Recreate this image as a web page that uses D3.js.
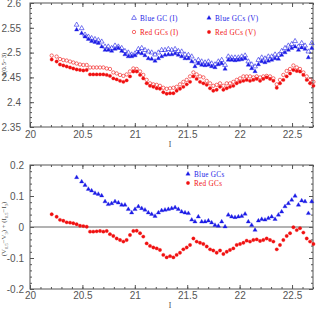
<!DOCTYPE html>
<html>
<head>
<meta charset="utf-8">
<script src="https://cdn.jsdelivr.net/npm/d3@7"></script>
<style>
body { margin: 0; background: #fff; }
</style>
</head>
<body>
<div id="chart"></div>
<script>
// I magnitude bins, blue and red samples
var blueX = [20.445, 20.493, 20.525, 20.557, 20.588, 20.620, 20.652, 20.684, 20.716, 20.747,
  20.779, 20.811, 20.843, 20.875, 20.906, 20.938, 20.970, 21.002, 21.034, 21.066,
  21.097, 21.129, 21.161, 21.193, 21.225, 21.256, 21.288, 21.320, 21.352, 21.384,
  21.415, 21.447, 21.479, 21.511, 21.543, 21.574, 21.606, 21.638, 21.670, 21.702,
  21.733, 21.765, 21.797, 21.829, 21.861, 21.892, 21.924, 21.956, 21.988, 22.020,
  22.052, 22.083, 22.115, 22.147, 22.179, 22.211, 22.242, 22.274, 22.306, 22.338,
  22.370, 22.401, 22.433, 22.465, 22.497, 22.529, 22.561, 22.592, 22.624, 22.656, 22.688];

var blueI = [2.556, 2.549, 2.536, 2.532, 2.529, 2.527, 2.525, 2.522, 2.512, 2.512,
  2.509, 2.514, 2.512, 2.509, 2.503, 2.500, 2.496, 2.498, 2.507, 2.509,
  2.505, 2.502, 2.500, 2.496, 2.500, 2.505, 2.505, 2.507, 2.505, 2.507,
  2.503, 2.502, 2.496, 2.495, 2.492, 2.482, 2.485, 2.482, 2.480, 2.482,
  2.478, 2.476, 2.482, 2.485, 2.475, 2.492, 2.490, 2.490, 2.490, 2.492,
  2.494, 2.482, 2.476, 2.472, 2.485, 2.490, 2.488, 2.492, 2.492, 2.496,
  2.495, 2.503, 2.509, 2.514, 2.517, 2.523, 2.512, 2.519, 2.514, 2.502, 2.519];

var blueV = [2.546, 2.539, 2.532, 2.527, 2.523, 2.521, 2.519, 2.512, 2.505, 2.505,
  2.503, 2.507, 2.509, 2.503, 2.496, 2.492, 2.492, 2.494, 2.500, 2.498,
  2.494, 2.488, 2.487, 2.483, 2.488, 2.492, 2.495, 2.496, 2.496, 2.498,
  2.495, 2.492, 2.488, 2.488, 2.482, 2.472, 2.478, 2.475, 2.474, 2.475,
  2.472, 2.470, 2.476, 2.478, 2.467, 2.485, 2.485, 2.484, 2.485, 2.486,
  2.488, 2.475, 2.468, 2.462, 2.476, 2.482, 2.480, 2.483, 2.485, 2.488,
  2.487, 2.495, 2.500, 2.505, 2.509, 2.512, 2.505, 2.510, 2.507, 2.490, 2.509];

var blueDiff = [0.160, 0.146, 0.135, 0.122, 0.117, 0.109, 0.106, 0.101, 0.082, 0.073,
  0.076, 0.082, 0.078, 0.071, 0.071, 0.057, 0.046, 0.057, 0.066, 0.060,
  0.055, 0.046, 0.041, 0.035, 0.046, 0.053, 0.055, 0.057, 0.060, 0.063,
  0.057, 0.049, 0.046, 0.044, 0.023, 0.017, 0.033, 0.017, 0.017, 0.020,
  0.014, 0.006, 0.003, 0.017, 0.001, 0.039, 0.033, 0.031, 0.033, 0.035,
  0.042, 0.017, 0.006, -0.010, 0.020, 0.025, 0.023, 0.028, 0.033, 0.025,
  0.039, 0.049, 0.066, 0.076, 0.087, 0.100, 0.071, 0.085, 0.082, 0.044, 0.082];

var redX = [20.207, 20.254, 20.286, 20.318, 20.350, 20.382, 20.413, 20.445, 20.477, 20.509,
  20.541, 20.573, 20.604, 20.636, 20.668, 20.700, 20.732, 20.763, 20.795, 20.827,
  20.859, 20.891, 20.922, 20.954, 20.986, 21.018, 21.050, 21.081, 21.113, 21.145,
  21.177, 21.209, 21.240, 21.272, 21.304, 21.336, 21.368, 21.399, 21.431, 21.463,
  21.495, 21.527, 21.559, 21.590, 21.622, 21.654, 21.686, 21.718, 21.749, 21.781,
  21.813, 21.845, 21.877, 21.908, 21.940, 21.972, 22.004, 22.036, 22.067, 22.099,
  22.131, 22.163, 22.195, 22.226, 22.258, 22.290, 22.322, 22.354, 22.385, 22.417,
  22.449, 22.481, 22.513, 22.545, 22.576, 22.608, 22.640, 22.672, 22.704];

var redI = [2.494, 2.492, 2.487, 2.485, 2.484, 2.482, 2.480, 2.478, 2.476, 2.475,
  2.475, 2.470, 2.470, 2.470, 2.470, 2.470, 2.468, 2.467, 2.460, 2.458,
  2.455, 2.453, 2.456, 2.462, 2.468, 2.467, 2.462, 2.455, 2.445, 2.438,
  2.436, 2.435, 2.433, 2.429, 2.427, 2.428, 2.429, 2.431, 2.436, 2.441,
  2.445, 2.452, 2.460, 2.456, 2.452, 2.450, 2.443, 2.438, 2.433, 2.435,
  2.438, 2.433, 2.438, 2.438, 2.441, 2.445, 2.448, 2.452, 2.452, 2.452,
  2.450, 2.452, 2.450, 2.452, 2.453, 2.452, 2.448, 2.436, 2.445, 2.455,
  2.463, 2.467, 2.474, 2.470, 2.467, 2.460, 2.452, 2.445, 2.441];

var redV = [2.486, 2.482, 2.476, 2.474, 2.472, 2.470, 2.468, 2.466, 2.465, 2.464,
  2.465, 2.456, 2.456, 2.456, 2.456, 2.456, 2.455, 2.453, 2.448, 2.446,
  2.443, 2.441, 2.444, 2.452, 2.462, 2.462, 2.455, 2.448, 2.438, 2.433,
  2.431, 2.428, 2.427, 2.420, 2.417, 2.418, 2.418, 2.423, 2.427, 2.431,
  2.436, 2.441, 2.452, 2.447, 2.441, 2.438, 2.435, 2.428, 2.423, 2.425,
  2.431, 2.425, 2.428, 2.431, 2.433, 2.438, 2.441, 2.443, 2.445, 2.443,
  2.445, 2.447, 2.443, 2.447, 2.450, 2.447, 2.443, 2.429, 2.438, 2.445,
  2.452, 2.458, 2.465, 2.463, 2.462, 2.455, 2.445, 2.438, 2.433];

var redDiff = [0.041, 0.033, 0.023, 0.020, 0.015, 0.014, 0.012, 0.009, 0.004, 0.003,
  0.001, -0.015, -0.015, -0.014, -0.013, -0.015, -0.013, -0.023, -0.029, -0.037,
  -0.042, -0.047, -0.042, -0.026, -0.013, -0.012, -0.020, -0.031, -0.053, -0.061,
  -0.066, -0.069, -0.074, -0.090, -0.098, -0.094, -0.098, -0.090, -0.083, -0.072,
  -0.066, -0.058, -0.037, -0.047, -0.051, -0.055, -0.063, -0.072, -0.076, -0.083,
  -0.076, -0.087, -0.080, -0.074, -0.069, -0.058, -0.055, -0.051, -0.044, -0.047,
  -0.042, -0.040, -0.045, -0.042, -0.037, -0.042, -0.047, -0.072, -0.058, -0.042,
  -0.029, -0.020, -0.001, -0.010, -0.004, -0.018, -0.037, -0.047, -0.055];

var xTicks = [20, 20.5, 21, 21.5, 22, 22.5];
var topTicks = [2.35, 2.4, 2.45, 2.5, 2.55, 2.6];
var botTicks = [-0.2, -0.1, 0, 0.1, 0.2];

var blue = "#1c1ce6", red = "#f01010";
var font = "'Liberation Serif', serif";
var plain = function(d) { return String(d); };

var svg = d3.select("#chart").append("svg")
  .attr("width", 316)
  .attr("height", 309);

var x = d3.scaleLinear().domain([20, 22.7]).range([30, 313]);
var yTop = d3.scaleLinear().domain([2.35, 2.6]).range([127, 3]);
var yBot = d3.scaleLinear().domain([-0.2, 0.2]).range([289, 165]);

var xMinor = d3.range(200, 228).map(function(v) { return v / 10; });

function frame(y, yMajor, yMinor, yPad, xPad) {
  var top = y.range()[1], bottom = y.range()[0];
  var g = svg.append("g").attr("color", "#555")
    .attr("font-family", font).attr("font-size", 6.5);

  g.append("g").attr("transform", "translate(0," + bottom + ")")
    .call(d3.axisBottom(x).tickValues(xTicks).tickFormat(plain).tickSizeInner(-4).tickSizeOuter(0).tickPadding(xPad));
  g.append("g").attr("transform", "translate(0," + bottom + ")")
    .call(d3.axisBottom(x).tickValues(xMinor).tickSizeInner(-2).tickSizeOuter(0).tickFormat(""));
  g.append("g").attr("transform", "translate(0," + top + ")")
    .call(d3.axisTop(x).tickValues(xTicks).tickSizeInner(-4).tickSizeOuter(0).tickFormat(""));
  g.append("g").attr("transform", "translate(0," + top + ")")
    .call(d3.axisTop(x).tickValues(xMinor).tickSizeInner(-2).tickSizeOuter(0).tickFormat(""));

  g.append("g").attr("transform", "translate(30,0)")
    .call(d3.axisLeft(y).tickValues(yMajor).tickFormat(plain).tickSizeInner(-4).tickSizeOuter(0).tickPadding(yPad));
  g.append("g").attr("transform", "translate(30,0)")
    .call(d3.axisLeft(y).tickValues(yMinor).tickSizeInner(-2).tickSizeOuter(0).tickFormat(""));
  g.append("g").attr("transform", "translate(313,0)")
    .call(d3.axisRight(y).tickValues(yMajor).tickSizeInner(-4).tickSizeOuter(0).tickFormat(""));
  g.append("g").attr("transform", "translate(313,0)")
    .call(d3.axisRight(y).tickValues(yMinor).tickSizeInner(-2).tickSizeOuter(0).tickFormat(""));

  g.selectAll(".domain").remove();
  g.selectAll("text").attr("fill", "#555");

  g.append("rect")
    .attr("x", 30).attr("y", top)
    .attr("width", 283).attr("height", bottom - top)
    .attr("fill", "none").attr("stroke", "#555").attr("stroke-width", 1);
}

frame(yTop, topTicks, d3.range(235, 261).map(function(v) { return v / 100; }), 9, 4);
frame(yBot, botTicks, d3.range(-10, 11).map(function(v) { return v / 50; }), 6, 3);

// zero line
svg.append("line")
  .attr("x1", x(20)).attr("x2", x(22.7))
  .attr("y1", yBot(0)).attr("y2", yBot(0))
  .attr("stroke", "#666").attr("stroke-width", 1);

var triOpen = d3.symbol().type(d3.symbolTriangle).size(10);
var triFill = d3.symbol().type(d3.symbolTriangle).size(8);
var circ = d3.symbol().type(d3.symbolCircle).size(9);

function points(xs, ys, y, sym, color, open) {
  svg.append("g").selectAll("path")
    .data(xs.map(function(d, i) { return [d, ys[i]]; }))
    .enter().append("path")
      .attr("transform", function(d) { return "translate(" + x(d[0]) + "," + y(d[1]) + ")"; })
      .attr("d", sym)
      .attr("fill", open ? "none" : color)
      .attr("stroke", color)
      .attr("stroke-width", open ? 0.6 : 0.3);
}

points(redX, redI, yTop, circ, red, true);
points(redX, redV, yTop, circ, red, false);
points(blueX, blueI, yTop, triOpen, blue, true);
points(blueX, blueV, yTop, triFill, blue, false);

points(redX, redDiff, yBot, circ, red, false);
points(blueX, blueDiff, yBot, triFill, blue, false);

// legends
function legendItem(px, py, sym, color, open, label) {
  svg.append("path")
    .attr("transform", "translate(" + px + "," + py + ")")
    .attr("d", sym)
    .attr("fill", open ? "none" : color)
    .attr("stroke", color)
    .attr("stroke-width", open ? 0.6 : 0.3);
  svg.append("text")
    .attr("x", px + 6).attr("y", py + 2.5)
    .attr("font-family", font).attr("font-size", 7.2)
    .attr("letter-spacing", 0.3)
    .attr("fill", color)
    .text(label);
}

legendItem(134, 18, triOpen, blue, true, "Blue GC (I)");
legendItem(209, 18, triFill, blue, false, "Blue GCs (V)");
legendItem(134, 32, circ, red, true, "Red GCs (I)");
legendItem(209, 32, circ, red, false, "Red GCs (V)");

legendItem(188, 174, triFill, blue, false, "Blue GCs");
legendItem(188, 183, circ, red, false, "Red GCs");

// axis titles
svg.append("text")
  .attr("x", 170).attr("y", 147)
  .attr("text-anchor", "middle")
  .attr("font-family", font).attr("font-size", 7.5).attr("fill", "#444")
  .text("I");
svg.append("text")
  .attr("x", 170).attr("y", 308)
  .attr("text-anchor", "middle")
  .attr("font-family", font).attr("font-size", 7.5).attr("fill", "#444")
  .text("I");

svg.append("text")
  .attr("transform", "translate(6,65) rotate(-90)")
  .attr("text-anchor", "middle")
  .attr("font-family", font).attr("font-size", 6.8).attr("fill", "#444")
  .text("\u0394(0.5\u22123)");

var yl = svg.append("text")
  .attr("transform", "translate(6,229) rotate(-90)")
  .attr("text-anchor", "middle")
  .attr("font-family", font).attr("font-size", 6.8).attr("fill", "#444");
yl.append("tspan").text("(V");
yl.append("tspan").attr("font-size", 4.6).attr("dy", 1.5).text("0.5");
yl.append("tspan").attr("dy", -1.5).text("\u2212V");
yl.append("tspan").attr("font-size", 4.6).attr("dy", 1.5).text("3");
yl.append("tspan").attr("dy", -1.5).text(")  +  (I");
yl.append("tspan").attr("font-size", 4.6).attr("dy", 1.5).text("0.5");
yl.append("tspan").attr("dy", -1.5).text("\u2212I");
yl.append("tspan").attr("font-size", 4.6).attr("dy", 1.5).text("3");
yl.append("tspan").attr("dy", -1.5).text(")");
</script>
</body>
</html>
